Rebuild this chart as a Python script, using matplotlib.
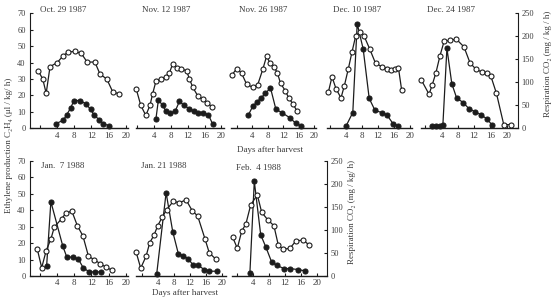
import matplotlib
matplotlib.use('Agg')
import matplotlib.pyplot as plt

plt.rcParams['font.family'] = ['Liberation Serif', 'DejaVu Serif']

# ---- data: days after harvest, ethylene (filled), CO2 (open)
oct29_eth_days = [3.6, 5.4, 6.2, 7.1, 7.9, 9.3, 10.7, 11.8, 12.7, 13.8, 14.8, 16.2]
oct29_eth = [2.7, 4.9, 8.2, 12.2, 16.9, 16.9, 14.9, 11.5, 7.8, 5.3, 2.7, 1.6]
oct29_co2_days = [-0.4, 0.6, 1.4, 2.3, 4.0, 5.4, 6.6, 8.1, 9.6, 11.0, 12.8, 14.0, 15.6, 17.0, 18.5]
oct29_co2 = [124, 107, 76, 134, 143, 158, 166, 167, 163, 144, 144, 118, 107, 79, 75]

nov12_eth_days = [4.4, 5.0, 6.0, 6.8, 7.8, 9.0, 10.0, 11.1, 12.4, 13.5, 14.5, 15.7, 16.9, 17.9]
nov12_eth = [5.5, 17.3, 14.0, 10.4, 9.1, 10.4, 16.4, 14.0, 11.8, 10.4, 9.6, 9.6, 8.2, 2.7]
nov12_co2_days = [-0.3, 0.8, 2.0, 3.0, 3.6, 4.4, 5.5, 6.8, 7.6, 8.4, 9.4, 10.3, 11.7, 12.4,
                  13.2, 14.4, 15.5, 16.6, 17.7]
nov12_co2 = [86, 50, 28, 50, 74, 102, 107, 112, 120, 140, 132, 130, 125, 107, 89, 70, 63, 56, 47]

nov26_eth_days = [3.0, 4.1, 5.1, 6.2, 7.4, 8.7, 10.1, 11.6, 13.8, 15.2, 16.7]
nov26_eth = [8.2, 13.4, 15.8, 18.4, 21.3, 24.6, 11.6, 9.6, 6.3, 3.1, 1.3]
nov26_co2_days = [-1.3, 0.0, 1.2, 2.5, 4.1, 5.4, 6.7, 7.7, 8.6, 9.6, 10.5, 11.3, 12.5, 13.5, 14.6, 15.6]
nov26_co2 = [116, 130, 120, 96, 89, 95, 128, 157, 141, 134, 120, 98, 82, 65, 52, 37]

dec10_eth_days = [4.0, 5.7, 6.8, 8.3, 9.8, 11.25, 12.9, 14.2, 15.8, 17.1]
dec10_eth = [1.3, 9.6, 63.7, 48.2, 18.2, 10.9, 9.6, 8.2, 2.7, 1.6]
dec10_co2_days = [-0.4, 0.5, 1.5, 2.75, 3.6, 4.6, 5.5, 6.4, 7.4, 8.5, 9.9, 11.4, 13.0, 14.3,
                  15.3, 16.3, 17.1, 17.9]
dec10_co2 = [79, 112, 86, 66, 93, 130, 166, 200, 209, 201, 173, 141, 134, 130, 126, 128, 132, 84]

dec24_eth_days = [1.6, 2.7, 3.6, 4.3, 5.3, 6.5, 7.7, 9.3, 10.7, 12.3, 13.8, 15.2, 16.5]
dec24_eth = [1.4, 1.4, 1.4, 1.8, 48.7, 27.2, 18.4, 15.7, 12.0, 10.0, 8.1, 5.6, 1.8]
dec24_co2_days = [-1.0, 0.9, 1.7, 2.6, 3.6, 4.6, 6.0, 7.6, 9.5, 11.0, 12.5, 14.0, 15.1, 16.1,
                  17.5, 19.3, 21.0]
dec24_co2 = [105, 74, 95, 121, 158, 189, 191, 194, 177, 142, 128, 122, 120, 114, 76, 8, 8]

jan7_eth_days = [1.5, 2.5, 5.3, 6.2, 7.75, 8.9, 10.1, 11.5, 12.8, 14.2]
jan7_eth = [5.9, 45.1, 18.1, 11.7, 11.3, 10.4, 4.9, 2.5, 2.5, 2.5]
jan7_co2_days = [-0.7, 0.35, 1.4, 2.5, 3.3, 5.0, 6.0, 7.4, 8.7, 10.0, 11.3, 12.7, 14.0, 15.4, 16.9]
jan7_co2 = [59, 18, 55, 80, 106, 124, 136, 141, 109, 87, 43, 35, 27, 19, 12]

jan21_eth_days = [3.75, 6.1, 7.75, 9.15, 10.4, 11.65, 12.9, 14.15, 15.6, 16.9, 18.75]
jan21_eth = [1.2, 50.6, 27.0, 13.6, 12.3, 10.4, 6.5, 6.5, 3.9, 2.9, 2.9]
jan21_co2_days = [-1.4, -0.25, 1.1, 2.0, 3.1, 4.0, 5.1, 6.25, 7.9, 9.4, 11.1, 12.6, 14.0,
                  15.8, 16.9, 18.6]
jan21_co2 = [52, 17, 43, 72, 89, 109, 127, 144, 162, 159, 165, 142, 130, 81, 50, 36]

feb4_eth_days = [3.3, 4.4, 6.0, 7.3, 8.75, 10.0, 11.8, 13.3, 15.4, 17.1]
feb4_eth = [1.9, 57.5, 25.0, 17.5, 8.4, 6.5, 4.5, 4.5, 3.9, 3.1]
feb4_co2_days = [-1.0, 0.15, 1.25, 2.3, 3.5, 5.15, 6.25, 7.75, 9.3, 10.4, 11.65, 13.3, 14.8,
                 16.65, 18.1]
feb4_co2 = [84, 60, 97, 113, 154, 176, 138, 122, 109, 67, 58, 60, 76, 78, 67]

titles = ['Oct. 29 1987', 'Nov. 12 1987', 'Nov. 26 1987', 'Dec. 10 1987', 'Dec. 24 1987',
          'Jan.  7 1988', 'Jan. 21 1988', 'Feb.  4 1988']

W, H = 556, 297
INK = '#1c1c1c'
TXT = '#3c3c3c'

fig = plt.figure(figsize=(W / 100, H / 100), dpi=100)

# panel geometry in pixels: x of day 0, px per day, xlim, y top, y bottom, edge axes
panels = [
    (oct29_eth_days, oct29_eth, oct29_co2_days, oct29_co2, 40.2, 4.27, (-2.4, 20.6), 13.3, 128.3, 'left', (40, 10)),
    (nov12_eth_days, nov12_eth, nov12_co2_days, nov12_co2, 137.4, 4.2, (-0.4, 20.6), 13.3, 128.3, None, (142, 10)),
    (nov26_eth_days, nov26_eth, nov26_co2_days, nov26_co2, 236.9, 3.86, (-1.6, 20.4), 13.3, 128.3, None, (239, 10)),
    (dec10_eth_days, dec10_eth, dec10_co2_days, dec10_co2, 330.0, 4.0, (-0.8, 20.5), 13.3, 128.3, None, (333, 10)),
    (dec24_eth_days, dec24_eth, dec24_co2_days, dec24_co2, 425.4, 4.06, (-1.1, 22.8), 13.3, 128.3, 'right', (427, 10)),
    (jan7_eth_days, jan7_eth, jan7_co2_days, jan7_co2, 40.2, 4.27, (-2.4, 20.6), 160.7, 276.0, 'left', (41, 166)),
    (jan21_eth_days, jan21_eth, jan21_co2_days, jan21_co2, 141.7, 4.0, (-1.5, 21.0), 160.7, 276.0, None, (141, 166)),
    (feb4_eth_days, feb4_eth, feb4_co2_days, feb4_co2, 236.7, 4.0, (-1.2, 22.5), 160.7, 276.0, 'right', (236, 168)),
]

for (ed, ev, cd, cv, x0, ppd, xl, yt, yb, edge, tpos), title in zip(panels, titles):
    left = x0 + xl[0] * ppd
    right = x0 + xl[1] * ppd
    ax = fig.add_axes([left / W, 1 - yb / H, (right - left) / W, (yb - yt) / H])
    ax.patch.set_alpha(0)
    ax2 = ax.twinx()
    ax.set_xlim(*xl)
    ax.set_ylim(0, 70)
    ax2.set_ylim(0, 250)

    for a in (ax, ax2):
        for s in ('top', 'left', 'right'):
            a.spines[s].set_visible(False)
        a.spines['bottom'].set_color(INK)
        a.spines['bottom'].set_linewidth(1.0)
    ax2.spines['bottom'].set_visible(False)

    ax.set_xticks([0, 4, 8, 12, 16, 20])
    ax.set_xticklabels(['', '4', '8', '12', '16', '20'])
    ax.tick_params(axis='x', direction='in', length=2.5, width=0.8, color=INK,
                   labelsize=6.5, labelcolor=TXT, pad=2.5)

    if edge == 'left':
        ax.spines['left'].set_visible(True)
        ax.spines['left'].set_color(INK)
        ax.set_yticks(range(0, 71, 10))
        ax.tick_params(axis='y', direction='in', length=2.5, width=0.8, color=INK,
                       labelsize=6, labelcolor=TXT, pad=3)
    else:
        ax.set_yticks([])
    if edge == 'right':
        ax2.spines['right'].set_visible(True)
        ax2.spines['right'].set_color(INK)
        ax2.set_yticks(range(0, 251, 50))
        ax2.tick_params(axis='y', direction='in', length=2.5, width=0.8, color=INK,
                        labelsize=6, labelcolor=TXT, pad=2.5)
    else:
        ax2.set_yticks([])

    ax.plot(ed, ev, '-o', color=INK, lw=0.9, ms=3.6, mfc=INK, mec=INK, mew=0.8, clip_on=False)
    ax2.plot(cd, cv, '-o', color=INK, lw=0.9, ms=3.6, mfc='white', mec=INK, mew=0.8, clip_on=False)

    fig.text(tpos[0] / W, 1 - tpos[1] / H, title, fontsize=6.5, color=TXT, ha='left', va='center')

fig.text(270 / W, 1 - 150 / H, 'Days after harvest', fontsize=6.5, color=TXT, ha='center', va='center')
fig.text(185 / W, 1 - 295 / H, 'Days after harvest', fontsize=6.5, color=TXT, ha='center', va='baseline')

fig.text(9 / W, 1 - 145 / H, 'Ethylene production C\u2082H\u2084 (\u03bcl / kg/ h)', fontsize=6.5,
         color=TXT, rotation=90, ha='center', va='center')
fig.text(548 / W, 1 - 64 / H, 'Respiration CO\u2082 (mg / kg / h)', fontsize=6.5,
         color=TXT, rotation=90, ha='center', va='center')
fig.text(352 / W, 1 - 212 / H, 'Respiration CO\u2082 (mg / kg/ h)', fontsize=6.5,
         color=TXT, rotation=90, ha='center', va='center')

fig.savefig('out.png', dpi=100, facecolor='white')
